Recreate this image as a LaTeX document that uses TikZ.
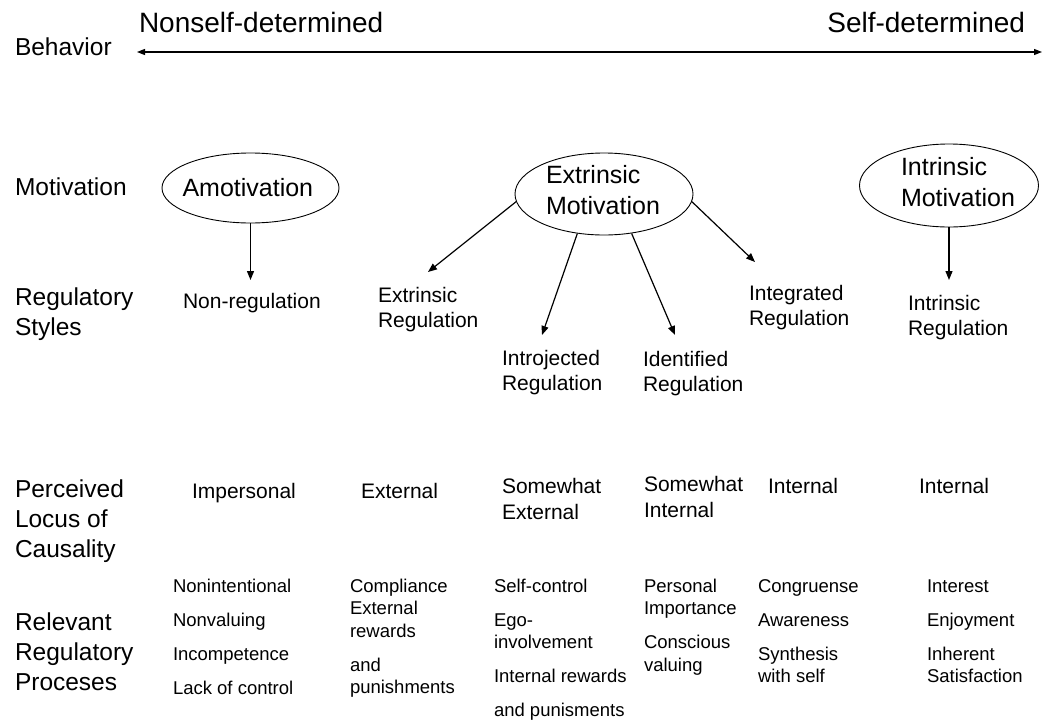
\documentclass[tikz,border=0pt]{standalone}
\usepackage{fontspec}
\setmainfont{Liberation Sans}
\usetikzlibrary{arrows.meta,shapes.geometric}
\newcommand{\stk}[1]{\begin{tabular}[t]{@{}l@{}}#1\end{tabular}}
\begin{document}
\begin{tikzpicture}[x=1pt,y=-1pt,
  txt/.style={anchor=base west, inner sep=0pt, outer sep=0pt},
  fL/.style={txt, font=\fontsize{24.5}{30}\selectfont},
  fT/.style={txt, font=\fontsize{28}{34}\selectfont},
  fE/.style={txt, font=\fontsize{25}{31}\selectfont},
  fR/.style={txt, font=\fontsize{21}{25}\selectfont},
  fP/.style={txt, font=\fontsize{21}{26.5}\selectfont},
  fS/.style={txt, font=\fontsize{18.5}{22.5}\selectfont},
  ell/.style={ellipse, draw, line width=0.9pt, inner sep=0pt},
  arr/.style={-{Triangle[length=9pt,width=7pt]}, line width=1.2pt},
  barr/.style={{Triangle[length=8pt,width=6pt]}-{Triangle[length=8pt,width=6pt]}, line width=1.3pt}]
\useasboundingbox (0,0) rectangle (1044,723);
% top row
\node[fL] (behav) at (15,55) {Behavior};
\node[fT] (nsd) at (139,32) {Nonself-determined};
\node[fT, anchor=base east] (sd) at (1025,32) {Self-determined};
\coordinate (bl) at (137,52);
\coordinate (br) at (1042,52);
\draw[barr] (bl) -- (br);
% left labels
\node[fL] (motl) at (15,195) {Motivation};
\node[fL] (regl) at (15,305) {\stk{Regulatory\\Styles}};
\node[fL] (perl) at (15,497) {\stk{Perceived\\Locus of\\Causality}};
\node[fL] (rell) at (15,630) {\stk{Relevant\\Regulatory\\Proceses}};
% ellipses
\node[ell, minimum width=177pt, minimum height=70pt] (amot) at (250.5,188) {};
\node[ell, minimum width=178pt, minimum height=82pt] (extr) at (604,194) {};
\node[ell, minimum width=179pt, minimum height=83pt] (intr) at (949,185.5) {};
\node[fE] (amott) at (182.5,196) {Amotivation};
\node[fE] (extrt) at (546,183) {\stk{Extrinsic\\Motivation}};
\node[fE] (intrt) at (901,175) {\stk{Intrinsic\\Motivation}};
% regulatory styles
\node[fR] (nonreg) at (183,308) {Non-regulation};
\node[fR] (extreg) at (378,302) {\stk{Extrinsic\\Regulation}};
\node[fR] (introreg) at (502,365) {\stk{Introjected\\Regulation}};
\node[fR] (identreg) at (643,366) {\stk{Identified\\Regulation}};
\node[fR] (integreg) at (749,300) {\stk{Integrated\\Regulation}};
\node[fR] (intrreg) at (908,310) {\stk{Intrinsic\\Regulation}};
% arrows
\coordinate (t1) at (250.5,280);
\coordinate (t2) at (428,272);
\coordinate (t3) at (542,335);
\coordinate (t4) at (675,335);
\coordinate (t5) at (755,262);
\coordinate (t6) at (949,280);
\draw[arr] (amot.south) -- (t1);
\draw[arr] (extr.185) -- (t2);
\draw[arr] (extr.236) -- (t3);
\draw[arr] (extr.305) -- (t4);
\draw[arr] (extr.355) -- (t5);
\draw[arr] (intr.south) -- (t6);
% locus of causality
\node[fR] (l1) at (192,498) {Impersonal};
\node[fR] (l2) at (361,498) {External};
\node[fP] (l3) at (502,493) {\stk{Somewhat\\External}};
\node[fP] (l4) at (644,491) {\stk{Somewhat\\Internal}};
\node[fR] (l5) at (768,493) {Internal};
\node[fR] (l6) at (919,493) {Internal};
% processes
\node[fS] (p1) at (173,592) {\stk{Nonintentional\\[11.5pt]Nonvaluing\\[11.5pt]Incompetence\\[11.5pt]Lack of control}};
\node[fS] (p2) at (350,592) {\stk{Compliance\\External\\rewards\\[11.5pt]and\\punishments}};
\node[fS] (p3) at (494,592) {\stk{Self-control\\[11.5pt]Ego-\\involvement\\[11.5pt]Internal rewards\\[11.5pt]and punisments}};
\node[fS] (p4) at (644,592) {\stk{Personal\\Importance\\[11.5pt]Conscious\\valuing}};
\node[fS] (p5) at (758,592) {\stk{Congruense\\[11.5pt]Awareness\\[11.5pt]Synthesis\\with self}};
\node[fS] (p6) at (927,592) {\stk{Interest\\[11.5pt]Enjoyment\\[11.5pt]Inherent\\Satisfaction}};
\end{tikzpicture}
\end{document}
